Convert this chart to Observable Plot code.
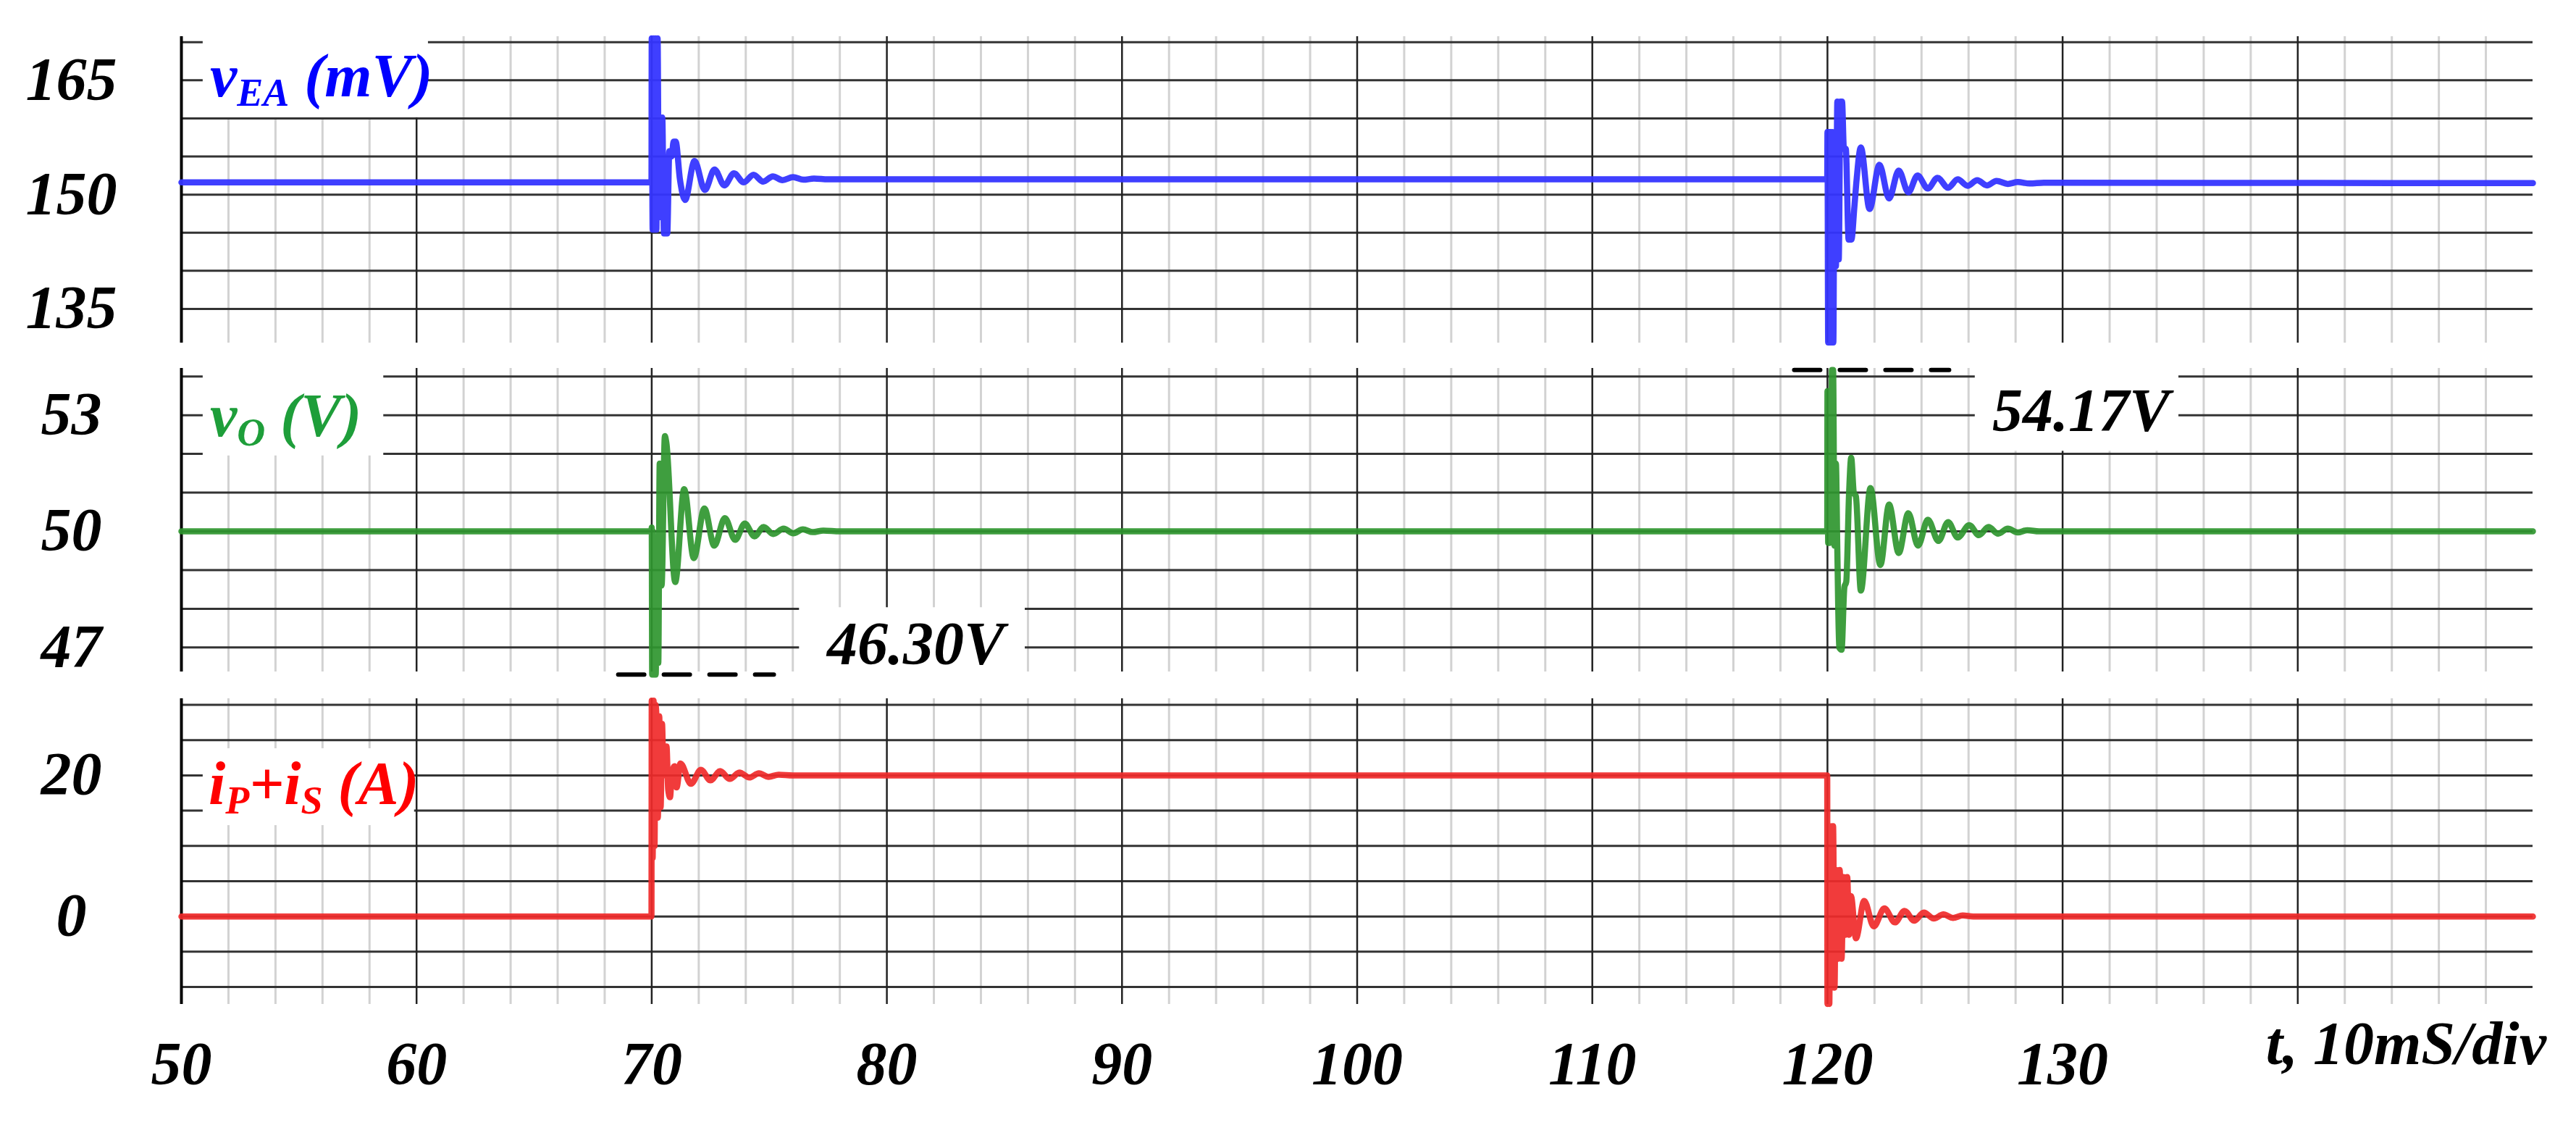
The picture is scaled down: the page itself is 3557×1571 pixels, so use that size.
<!DOCTYPE html>
<html><head><meta charset="utf-8">
<script src="https://cdn.jsdelivr.net/npm/d3@7"></script>
<script src="https://cdn.jsdelivr.net/npm/@observablehq/plot@0.6"></script>
<style>
html,body{margin:0;padding:0;background:#fff;}
#chart{position:relative;width:3557px;height:1571px;background:#fff;overflow:hidden;}
#chart > div{position:absolute;left:0;width:3557px;}
#chart svg{overflow:visible;max-width:none;}
</style></head><body><div id="chart"></div>
<script>
// ---------- data ----------
const xTicks = [50, 60, 70, 80, 90, 100, 110, 120, 130];
const xMajor = [60, 70, 80, 90, 100, 110, 120, 130, 140];
const xMinor = [52,54,56,58,62,64,66,68,72,74,76,78,82,84,86,88,92,94,96,98,102,104,106,108,112,114,116,118,122,124,126,128,132,134,136,138,142,144,146,148];
const xLabel = "t, 10mS/div";

const yTicksEA = [135, 150, 165];
const yGridEA = [135, 140, 145, 150, 155, 160, 165, 170];
const yTicksO = [47, 50, 53];
const yGridO = [47, 48, 49, 50, 51, 52, 53, 54];
const yTicksI = [0, 20];
const yGridI = [-10, -5, 0, 5, 10, 15, 20, 25, 30];

// v_EA (mV): [time, value]
const vEA = [[50,151.6],[69.99,151.6],[70.00,170.5],[70.04,145.4],[70.08,170.5],[70.12,145.4],[70.16,170.5],[70.20,145.4],[70.25,170.5],[70.30,150.0],[70.35,160.1],[70.40,147.0],[70.45,160.1],[70.52,144.9],[70.66,144.9],[70.75,155.7],[70.85,155.0],[70.93,156.95],[71.02,156.95],[71.20,152.0],[71.42,149.3],[71.82,154.4],[72.26,150.6],[72.67,153.3],[73.09,151.2],[73.50,152.8],[73.91,151.6],[74.33,152.6],[74.74,151.7],[75.15,152.4],[75.56,151.9],[76.01,152.3],[76.45,151.95],[76.90,152.1],[77.50,152.0],
 [119.99,152.0],[120.00,158.2],[120.03,130.6],[120.06,158.2],[120.09,130.6],[120.12,158.2],[120.16,130.6],[120.20,158.2],[120.25,130.6],[120.30,158.2],[120.36,140.6],[120.42,162.2],[120.48,141.5],[120.55,162.2],[120.62,162.2],[120.70,156.0],[120.78,156.0],[120.90,144.1],[121.02,144.1],[121.14,148.2],[121.24,152.0],[121.42,156.2],[121.79,148.1],[122.21,153.9],[122.62,149.5],[123.03,153.15],[123.44,150.3],[123.83,152.5],[124.27,150.8],[124.68,152.2],[125.13,150.9],[125.54,152.0],[125.96,151.15],[126.37,151.9],[126.78,151.2],[127.19,151.8],[127.67,151.4],[128.09,151.65],[128.60,151.45],[129.20,151.55],[150,151.5]];

// v_O (V)
const vO = [[50,50.0],[69.99,50.0],[70.00,50.1],[70.02,46.3],[70.05,50.0],[70.09,46.3],[70.13,49.5],[70.17,46.3],[70.22,48.8],[70.28,46.6],[70.34,51.75],[70.42,48.6],[70.56,52.46],[70.62,52.3],[71.00,48.69],[71.38,51.09],[71.79,49.31],[72.24,50.59],[72.66,49.63],[73.11,50.34],[73.55,49.78],[73.96,50.2],[74.37,49.87],[74.76,50.11],[75.17,49.93],[75.61,50.07],[76.02,49.95],[76.43,50.05],[76.85,49.98],[77.30,50.02],[78.0,50.0],
 [119.99,50.0],[120.00,53.62],[120.03,49.7],[120.06,53.62],[120.09,49.7],[120.12,53.62],[120.16,50.0],[120.19,54.17],[120.24,54.17],[120.30,49.63],[120.36,51.75],[120.42,49.5],[120.50,47.0],[120.60,46.94],[120.72,48.56],[120.80,48.7],[120.92,51.0],[121.01,51.9],[121.12,51.0],[121.21,50.9],[121.42,48.47],[121.83,51.12],[122.25,49.13],[122.62,50.69],[123.03,49.44],[123.44,50.47],[123.85,49.63],[124.27,50.3],[124.72,49.75],[125.13,50.24],[125.54,49.84],[126.03,50.16],[126.44,49.9],[126.85,50.11],[127.26,49.94],[127.67,50.07],[128.09,49.97],[128.50,50.03],[129.0,50.0],[150,50.0]];

// i_P + i_S (A)
const iPS = [[50,0],[69.99,0],[70.00,30.6],[70.04,8.3],[70.08,30.6],[70.12,10.0],[70.16,30.0],[70.20,28.4],[70.26,14.0],[70.32,28.4],[70.38,15.5],[70.44,27.3],[70.50,20.0],[70.56,24.1],[70.63,24.1],[70.70,18.0],[70.78,16.9],[70.85,20.0],[70.97,21.3],[71.06,18.3],[71.22,21.7],[71.67,18.8],[72.09,20.8],[72.50,19.3],[72.91,20.6],[73.32,19.5],[73.73,20.4],[74.15,19.7],[74.56,20.3],[74.97,19.8],[75.40,20.1],[76.0,20.0],
 [119.99,20.0],[120.00,-12.4],[120.04,12.8],[120.08,-12.4],[120.12,12.8],[120.18,-10.1],[120.24,12.8],[120.30,-10.1],[120.36,6.6],[120.44,-6.0],[120.52,6.6],[120.60,-6.0],[120.68,5.6],[120.76,-2.6],[120.84,5.6],[120.92,-2.6],[121.00,2.9],[121.21,-3.1],[121.56,2.2],[121.97,-1.4],[122.42,1.15],[122.87,-0.84],[123.28,0.8],[123.69,-0.6],[124.10,0.55],[124.52,-0.3],[124.93,0.3],[125.34,-0.2],[125.75,0.15],[126.2,0.0],[150,0.0]];

// extreme-value annotations
const peakMarks = [
  {value: 46.30, x1: 68.59, x2: 75.21, tx: 81.23, ty: 46.57, bx1: 76.28, bx2: 85.88, by1: 46.37, by2: 48.03},
  {value: 54.17, x1: 118.60, x2: 125.19, tx: 130.78, ty: 52.59, bx1: 126.28, bx2: 134.94, by1: 52.07, by2: 54.21}
];

// series labels (parts: [text, isSubscript])
const labelEA = {parts: [["v",0],["EA",1],[" (mV)",0]], color: "#0000ff", tx: 51.23, ty: 162.84, bx1: 50.92, bx2: 60.5, by1: 160.09, by2: 170.73};
const labelO  = {parts: [["v",0],["O",1],[" (V)",0]], color: "#1e9e3a", tx: 51.23, ty: 52.45, bx1: 50.92, bx2: 58.6, by1: 51.95, by2: 54.21};
const labelI  = {parts: [["i",0],["P",1],["+i",0],["S",1],[" (A)",0]], color: "#ff0000", tx: 51.17, ty: 15.92, bx1: 50.92, bx2: 59.91, by1: 12.9, by2: 23.8};

// ---------- styling ----------
const FONT = "'Liberation Serif', 'Times New Roman', serif";
const W = 3557, ML = 250, MR = 60;
const svgStyle = {fontFamily: FONT, fontSize: "84px", fontWeight: "bold", fontStyle: "italic", color: "black", background: "transparent", overflow: "visible"};

function scaleFns(scales, dims, xd, yd) {
  const sx = typeof scales.x === "function" ? scales.x : d3.scaleLinear(xd, [dims.marginLeft, dims.width - dims.marginRight]);
  const sy = typeof scales.y === "function" ? scales.y : d3.scaleLinear(yd, [dims.height - dims.marginBottom, dims.marginTop]);
  return [sx, sy];
}

function labelMark(spec, yd) {
  return (index, scales, values, dims) => {
    const [X, Y] = scaleFns(scales, dims, [50,150], yd);
    const g = d3.create("svg:g");
    g.append("rect").attr("x", X(spec.bx1)).attr("y", Y(spec.by2))
      .attr("width", X(spec.bx2) - X(spec.bx1)).attr("height", Y(spec.by1) - Y(spec.by2)).attr("fill", "white");
    const t = g.append("text").attr("x", X(spec.tx)).attr("y", Y(spec.ty)).attr("fill", spec.color)
      .attr("text-anchor", "start").style("font-family", FONT).style("font-weight", "bold").style("font-style", "italic");
    let off = 0;
    for (const [s, sub] of spec.parts) {
      const target = sub ? 13 : 0;
      t.append("tspan").attr("dy", target - off).style("font-size", sub ? "54px" : "84px").text(s);
      off = target;
    }
    return g.node();
  };
}

function peakBoxMark(p, yd) {
  return (index, scales, values, dims) => {
    const [X, Y] = scaleFns(scales, dims, [50,150], yd);
    const g = d3.create("svg:g");
    g.append("rect").attr("x", X(p.bx1)).attr("y", Y(p.by2))
      .attr("width", X(p.bx2) - X(p.bx1)).attr("height", Y(p.by1) - Y(p.by2)).attr("fill", "white");
    return g.node();
  };
}

function gridMarks(yGrid) {
  return [
    Plot.ruleX(xMinor, {stroke: "#d2d2d2", strokeWidth: 3}),
    Plot.ruleY(yGrid, {stroke: "#333", strokeWidth: 3}),
    Plot.ruleX(xMajor, {stroke: "#222", strokeWidth: 2.5}),
    Plot.ruleX([50], {stroke: "black", strokeWidth: 4})
  ];
}

function yAxis(ticks) {
  return Plot.axisY(ticks, {tickSize: 0, tickPadding: 152, textAnchor: "middle", label: null, tickFormat: d => String(d),
    fontSize: 84, fontFamily: FONT, fontWeight: "bold", fontStyle: "italic", fill: "black"});
}

const LW = 8.5;

// ---------- panel 1: v_EA ----------
const ydEA = [130.53, 170.73];
const p1 = Plot.plot({
  width: W, height: 473, marginTop: 50, marginBottom: 0, marginLeft: ML, marginRight: MR,
  style: svgStyle,
  x: {domain: [50, 150], axis: null},
  y: {domain: ydEA},
  marks: [
    ...gridMarks(yGridEA),
    yAxis(yTicksEA),
    labelMark(labelEA, ydEA),
    Plot.line(vEA, {x: d => d[0], y: d => d[1], stroke: "#3535ff", strokeWidth: LW, curve: "monotone-x", strokeOpacity: 0.95})
  ]
});

// ---------- panel 2: v_O ----------
const ydO = [46.37, 54.21];
const p2 = Plot.plot({
  width: W, height: 464, marginTop: 35, marginBottom: 10, marginLeft: ML, marginRight: MR,
  style: svgStyle,
  x: {domain: [50, 150], axis: null},
  y: {domain: ydO},
  marks: [
    ...gridMarks(yGridO),
    yAxis(yTicksO),
    labelMark(labelO, ydO),
    ...peakMarks.map(p => peakBoxMark(p, ydO)),
    Plot.line(vO, {x: d => d[0], y: d => d[1], stroke: "#2f962f", strokeWidth: LW, curve: "monotone-x", strokeOpacity: 0.92}),
    Plot.ruleY(peakMarks, {y: "value", x1: "x1", x2: "x2", stroke: "black", strokeWidth: 6, strokeDasharray: "36,27", strokeLinecap: "round"}),
    Plot.text(peakMarks, {x: "tx", y: "ty", text: d => d.value.toFixed(2) + "V", textAnchor: "middle", lineAnchor: "bottom",
      fontSize: 84, fontFamily: FONT, fontWeight: "bold", fontStyle: "italic", fill: "black"})
  ]
});

// ---------- panel 3: i_P + i_S ----------
const ydI = [-12.46, 30.88];
const p3 = Plot.plot({
  width: W, height: 634, marginTop: 27, marginBottom: 185, marginLeft: ML, marginRight: MR,
  style: svgStyle,
  x: {domain: [50, 150]},
  y: {domain: ydI},
  marks: [
    ...gridMarks(yGridI),
    yAxis(yTicksI),
    Plot.axisX(xTicks, {tickSize: 0, tickPadding: 51, label: null, tickFormat: d => String(d),
      fontSize: 84, fontFamily: FONT, fontWeight: "bold", fontStyle: "italic", fill: "black"}),
    labelMark(labelI, ydI),
    Plot.line(iPS, {x: d => d[0], y: d => d[1], stroke: "#f02a2a", strokeWidth: LW, curve: "monotone-x", strokeOpacity: 0.92}),
    Plot.text([xLabel], {x: 138.64, frameAnchor: "bottom", dy: 82, text: d => d, textAnchor: "start",
      fontSize: 84, fontFamily: FONT, fontWeight: "bold", fontStyle: "italic", fill: "black"})
  ]
});

const chart = document.getElementById("chart");
[[p1, 0], [p2, 473], [p3, 937]].forEach(([svg, top]) => {
  const d = document.createElement("div");
  d.style.top = top + "px";
  d.appendChild(svg);
  chart.appendChild(d);
});
</script></body></html>
